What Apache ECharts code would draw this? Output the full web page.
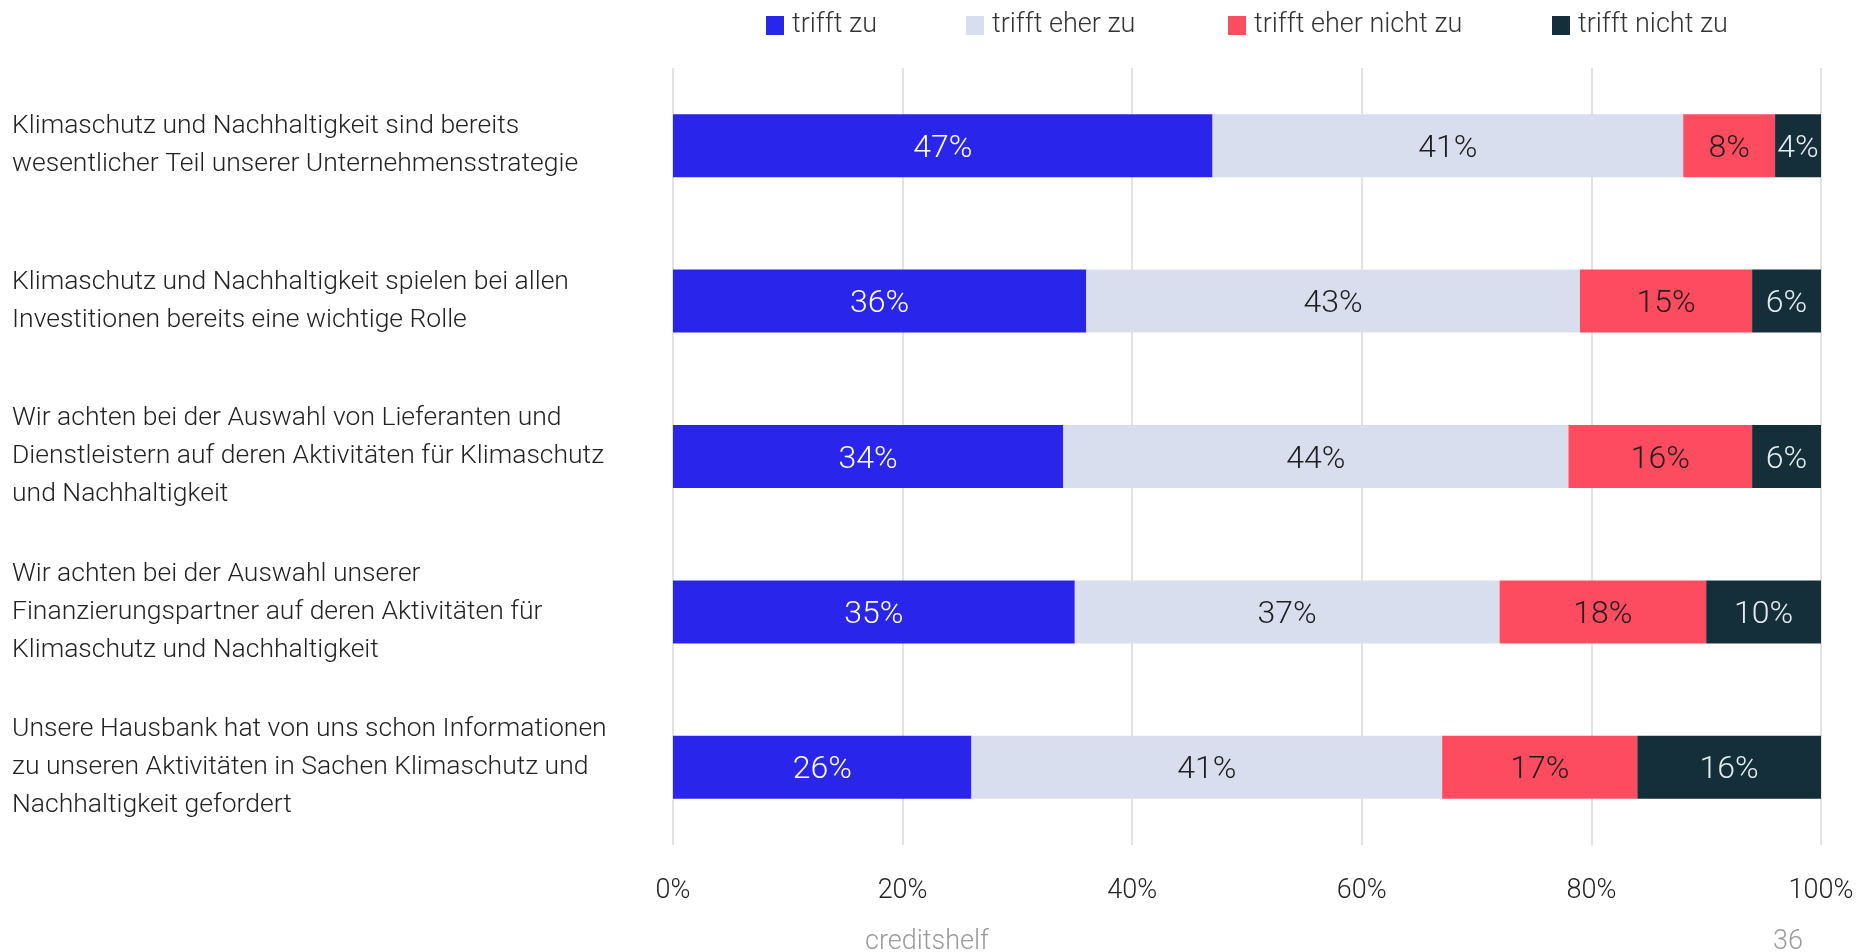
<!DOCTYPE html>
<html lang="de">
<head>
<meta charset="utf-8">
<title>Klimaschutz und Nachhaltigkeit</title>
<script src="https://cdn.jsdelivr.net/npm/echarts@6/dist/echarts.min.js"></script>
<style>
  html, body { margin: 0; padding: 0; background: #ffffff; }
  #chart { width: 1875px; height: 952px; }
</style>
</head>
<body>
<div id="chart"></div>
<script>
// Survey statements (top to bottom)
const categories = [
  'Klimaschutz und Nachhaltigkeit sind bereits\nwesentlicher Teil unserer Unternehmensstrategie',
  'Klimaschutz und Nachhaltigkeit spielen bei allen\nInvestitionen bereits eine wichtige Rolle',
  'Wir achten bei der Auswahl von Lieferanten und\nDienstleistern auf deren Aktivitäten für Klimaschutz\nund Nachhaltigkeit',
  'Wir achten bei der Auswahl unserer\nFinanzierungspartner auf deren Aktivitäten für\nKlimaschutz und Nachhaltigkeit',
  'Unsere Hausbank hat von uns schon Informationen\nzu unseren Aktivitäten in Sachen Klimaschutz und\nNachhaltigkeit gefordert'
];

// Answer shares in percent
const trifftZu = [47, 36, 34, 35, 26];
const trifftEherZu = [41, 43, 44, 37, 41];
const trifftEherNichtZu = [8, 15, 16, 18, 17];
const trifftNichtZu = [4, 6, 6, 10, 16];

const seriesNames = ['trifft zu', 'trifft eher zu', 'trifft eher nicht zu', 'trifft nicht zu'];
const seriesData = [trifftZu, trifftEherZu, trifftEherNichtZu, trifftNichtZu];
const seriesColors = ['#2A25EB', '#D9DEEF', '#FD4B60', '#142E3A'];
const labelColors = ['#ffffff', '#1e1e1e', '#1e1e1e', '#e6ebef'];

// Axis ticks
const xTicks = [0, 20, 40, 60, 80, 100];

const FONT = 'Roboto, "Open Sans", sans-serif';

const chart = echarts.init(document.getElementById('chart'));

const legendLefts = [766, 966, 1228, 1552];

const option = {
  backgroundColor: '#ffffff',
  animation: false,
  textStyle: { fontFamily: FONT, fontWeight: 300 },
  legend: seriesNames.map((name, i) => ({
    data: [name],
    left: legendLefts[i],
    top: 12,
    padding: 0,
    itemWidth: 18,
    itemHeight: 19,
    itemGap: 0,
    icon: 'rect',
    selectedMode: false,
    textStyle: { fontFamily: FONT, fontWeight: 300, fontSize: 27, color: '#333333', padding: [0, 0, 0, 3] }
  })),
  grid: { left: 673, right: 54, top: 68, bottom: 107 },
  xAxis: {
    type: 'value',
    min: xTicks[0],
    max: xTicks[xTicks.length - 1],
    interval: xTicks[1] - xTicks[0],
    axisLine: { show: false },
    axisTick: { show: false },
    splitLine: { show: true, lineStyle: { color: '#d8d8d8', width: 1.5 } },
    axisLabel: {
      formatter: '{value}%',
      fontFamily: FONT,
      fontWeight: 300,
      fontSize: 27,
      color: '#222222',
      margin: 33
    }
  },
  yAxis: {
    type: 'category',
    data: categories,
    inverse: true,
    axisLine: { show: false },
    axisTick: { show: false },
    axisLabel: {
      align: 'left',
      margin: 661,
      fontFamily: FONT,
      fontWeight: 300,
      fontSize: 26.5,
      lineHeight: 38,
      padding: [4, 0, 0, 0],
      color: '#222222'
    }
  },
  series: seriesNames.map((name, i) => ({
    name: name,
    type: 'bar',
    stack: 'total',
    barWidth: 63,
    data: seriesData[i],
    itemStyle: { color: seriesColors[i] },
    label: {
      show: true,
      position: 'inside',
      offset: [0, 3],
      formatter: '{c}%',
      fontFamily: FONT,
      fontWeight: 300,
      fontSize: 32,
      color: labelColors[i]
    }
  })),
  graphic: [
    {
      type: 'text',
      style: { text: 'creditshelf', x: 927, y: 942, align: 'center', verticalAlign: 'middle', fill: '#9a9a9a', font: '300 27px ' + FONT }
    },
    {
      type: 'text',
      style: { text: '36', x: 1788, y: 942, align: 'center', verticalAlign: 'middle', fill: '#9a9a9a', font: '300 27px ' + FONT }
    }
  ]
};

chart.setOption(option);
</script>
</body>
</html>
